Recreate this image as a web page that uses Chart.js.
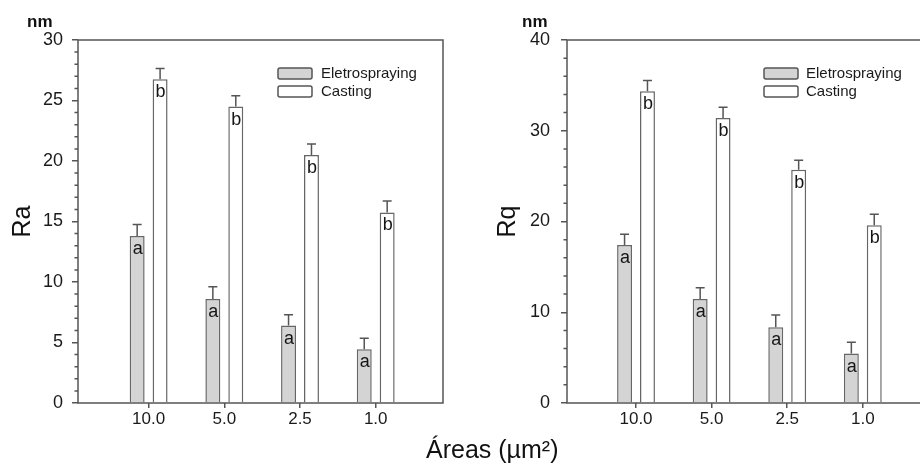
<!DOCTYPE html>
<html>
<head>
<meta charset="utf-8">
<script src="https://cdn.jsdelivr.net/npm/chart.js@4.4.0/dist/chart.umd.min.js"></script>
<style>
  html, body { margin: 0; padding: 0; background: #fff; overflow: hidden; width: 920px; height: 465px; }
  #left { position: absolute; left: 0; top: 0; }
  #right { position: absolute; left: 460px; top: 0; }
  #xtitle { position: absolute; left: 426px; top: 437px; font: 25px "Liberation Sans", Arial, sans-serif; line-height: 25px; color: #111; white-space: nowrap; }
</style>
</head>
<body>
<canvas id="left" width="460" height="465"></canvas>
<canvas id="right" width="480" height="465"></canvas>
<div id="xtitle">Áreas (µm²)</div>
<script>
// dados
const areas = ['10.0', '5.0', '2.5', '1.0'];
const seriesNames = ['Eletrospraying', 'Casting'];

const raEletro = [13.8, 8.6, 6.4, 4.45];
const raEletroErr = [0.95, 1.0, 0.9, 0.9];
const raCasting = [26.75, 24.5, 20.5, 15.75];
const raCastingErr = [0.9, 0.9, 0.9, 0.95];

const rqEletro = [17.4, 11.45, 8.35, 5.45];
const rqEletroErr = [1.2, 1.25, 1.35, 1.25];
const rqCasting = [34.35, 31.4, 25.7, 19.6];
const rqCastingErr = [1.2, 1.2, 1.05, 1.2];

// letras de significância (a = Eletrospraying, b = Casting)
const lettersEletro = ['a', 'a', 'a', 'a'];
const lettersCasting = ['b', 'b', 'b', 'b'];

Chart.defaults.font.family = '"Liberation Sans", Arial, sans-serif';
Chart.defaults.color = '#1a1a1a';

const AXIS = '#555';

// barras de erro, letras, moldura, ticks menores, legenda e "nm"
const extrasPlugin = {
  id: 'extras',
  afterDatasetsDraw(chart, args, opts) {
    const { ctx, chartArea: a, scales: { y } } = chart;
    ctx.save();

    chart.data.datasets.forEach((ds, d) => {
      const meta = chart.getDatasetMeta(d);
      meta.data.forEach((bar, i) => {
        const top = y.getPixelForValue(ds.data[i].y + opts.errors[d][i]);
        ctx.strokeStyle = AXIS;
        ctx.lineWidth = 1.5;
        ctx.beginPath();
        ctx.moveTo(bar.x, bar.y);
        ctx.lineTo(bar.x, top);
        ctx.moveTo(bar.x - 4.5, top);
        ctx.lineTo(bar.x + 4.5, top);
        ctx.stroke();

        ctx.fillStyle = '#151515';
        ctx.font = '18px "Liberation Sans", Arial, sans-serif';
        ctx.textAlign = 'center';
        ctx.textBaseline = 'alphabetic';
        ctx.fillText(opts.letters[d][i], bar.x + 0.5, bar.y + 18);
      });
    });

    // moldura
    ctx.strokeStyle = AXIS;
    ctx.lineWidth = 1.5;
    ctx.strokeRect(a.left, a.top, a.right - a.left, a.bottom - a.top);

    // ticks menores no eixo y
    ctx.beginPath();
    for (let v = y.min; v <= y.max; v += opts.minorStep) {
      if (v % opts.majorStep === 0) continue;
      const py = y.getPixelForValue(v);
      ctx.moveTo(a.left - 3.5, py);
      ctx.lineTo(a.left, py);
    }
    ctx.stroke();

    // legenda
    chart.data.datasets.forEach((ds, d) => {
      const bx = a.left + opts.legendX;
      const by = a.top + 28 + d * 18;
      ctx.beginPath();
      ctx.roundRect(bx, by, 34, 11, 2);
      ctx.fillStyle = ds.backgroundColor;
      ctx.fill();
      ctx.strokeStyle = '#555';
      ctx.lineWidth = 1.5;
      ctx.stroke();
      ctx.fillStyle = '#1a1a1a';
      ctx.font = '15px "Liberation Sans", Arial, sans-serif';
      ctx.textAlign = 'left';
      ctx.textBaseline = 'middle';
      ctx.fillText(ds.label, bx + 34 + opts.legendGap, by + 6);
    });

    // unidade
    ctx.fillStyle = '#111';
    ctx.font = 'bold 17px "Liberation Sans", Arial, sans-serif';
    ctx.textAlign = 'left';
    ctx.textBaseline = 'alphabetic';
    ctx.fillText('nm', opts.nmX, 27);

    ctx.restore();
  }
};

function makeChart(id, cfg) {
  return new Chart(document.getElementById(id), {
    type: 'bar',
    data: {
      datasets: [{
        label: seriesNames[0],
        data: cfg.eletro.map((v, i) => ({ x: i + 1, y: v })),
        backgroundColor: '#d4d4d4',
        borderColor: '#666',
        borderWidth: 1.5,
        categoryPercentage: 0.606,
        barPercentage: 0.652
      }, {
        label: seriesNames[1],
        data: cfg.casting.map((v, i) => ({ x: i + 1, y: v })),
        backgroundColor: '#ffffff',
        borderColor: '#666',
        borderWidth: 1.5,
        categoryPercentage: 0.606,
        barPercentage: 0.652
      }]
    },
    options: {
      responsive: false,
      animation: false,
      layout: { padding: { top: 40, right: cfg.padRight, left: 0, bottom: 0 } },
      plugins: {
        legend: { display: false },
        tooltip: { enabled: false },
        extras: {
          errors: [cfg.eletroErr, cfg.castingErr],
          letters: [lettersEletro, lettersCasting],
          minorStep: cfg.minorStep,
          majorStep: cfg.majorStep,
          legendX: cfg.legendX,
          legendGap: cfg.legendGap,
          nmX: cfg.nmX
        }
      },
      scales: {
        x: {
          type: 'linear',
          position: 'bottom',
          offset: false,
          min: cfg.xMin,
          max: cfg.xMax,
          border: { display: false },
          grid: { display: true, offset: false, drawOnChartArea: false, drawTicks: true, tickLength: 5, color: AXIS, lineWidth: 1.5 },
          ticks: {
            stepSize: 1,
            includeBounds: false,
            autoSkip: false,
            maxRotation: 0,
            padding: 1.5,
            font: { size: 17 },
            callback: v => areas[v - 1] ?? ''
          },
          afterFit: s => { s.height = 62; }
        },
        y: {
          min: 0,
          max: cfg.yMax,
          border: { display: false },
          grid: { display: true, drawOnChartArea: false, drawTicks: true, tickLength: 6, color: AXIS, lineWidth: 1.5 },
          ticks: { stepSize: cfg.majorStep, padding: cfg.tickPad, font: { size: 18 } },
          title: { display: true, text: cfg.title, color: '#111', font: { size: 25 }, padding: { top: cfg.titlePad, bottom: 0 } },
          afterFit: s => { s.width = cfg.yWidth; }
        }
      }
    },
    plugins: [extrasPlugin]
  });
}

makeChart('left', {
  title: 'Ra', eletro: raEletro, eletroErr: raEletroErr, casting: raCasting, castingErr: raCastingErr,
  yMax: 30, majorStep: 5, minorStep: 1, yWidth: 78, padRight: 17,
  xMin: 0.067, xMax: 4.889, tickPad: 9, titlePad: 8,
  legendX: 200, legendGap: 9, nmX: 27
});

makeChart('right', {
  title: 'Rq', eletro: rqEletro, eletroErr: rqEletroErr, casting: rqCasting, castingErr: rqCastingErr,
  yMax: 40, majorStep: 10, minorStep: 2, yWidth: 107, padRight: 5,
  xMin: 0.087, xMax: 4.955, tickPad: 11, titlePad: 33,
  legendX: 197, legendGap: 8, nmX: 62
});
</script>
</body>
</html>
